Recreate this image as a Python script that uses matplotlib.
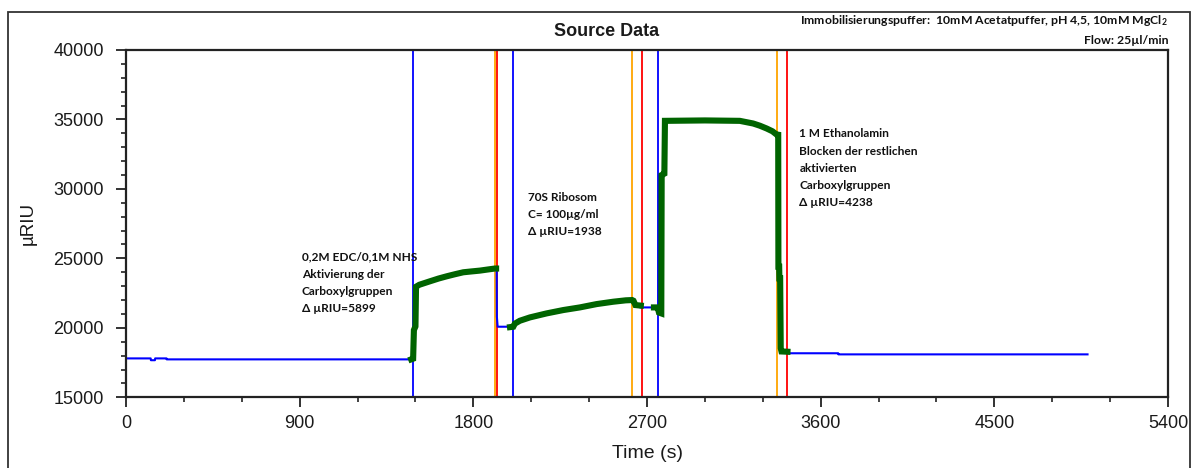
import matplotlib
matplotlib.use("Agg")
import matplotlib.pyplot as plt
from matplotlib.patches import Rectangle
from matplotlib.ticker import MultipleLocator

plt.rcParams["mathtext.fontset"] = "custom"
plt.rcParams["mathtext.bf"] = "Lato:bold"
plt.rcParams["mathtext.rm"] = "Lato"

# Full sensorgram (time in s, signal in µRIU)
trace_t = [0, 128, 129, 150, 151, 210, 211, 1480, 1488, 1492, 1500, 1503, 1520, 1575,
           1620, 1662, 1705, 1748, 1790, 1834, 1875, 1912, 1921, 1922, 1926, 2004,
           2015, 2041, 2093, 2180, 2266, 2352, 2439, 2525, 2590, 2623, 2630, 2640,
           2665, 2758, 2759, 2762, 2790, 2793, 3000, 3181, 3250, 3285, 3320, 3350,
           3371, 3380, 3381, 3386, 3393, 3397, 3432, 3691, 3692, 4983]
trace_v = [17800, 17800, 17670, 17670, 17800, 17800, 17730, 17730, 17780, 19840, 20100,
           22960, 23100, 23350, 23550, 23710, 23860, 24000, 24060, 24120, 24200, 24270,
           24270, 20800, 20080, 20080, 20300, 20510, 20750, 21040, 21280, 21470, 21710,
           21880, 21980, 22000, 21950, 21640, 21470, 21470, 21040, 31000, 31000, 34900,
           34930, 34900, 34710, 34550, 34350, 34150, 33920, 33900, 24400, 23560, 18530,
           18300, 18170, 18170, 18090, 18090]

# Highlighted injection phases
inj1_t = [1478, 1488, 1492, 1500, 1503, 1520, 1575, 1620, 1662, 1705, 1748, 1790, 1834,
          1875, 1912, 1918]
inj1_v = [17730, 17780, 19840, 20100, 22960, 23100, 23350, 23550, 23710, 23860, 24000,
          24060, 24120, 24200, 24270, 24270]
inj2_t = [1990, 2007, 2015, 2041, 2093, 2180, 2266, 2352, 2439, 2525, 2590, 2623, 2630,
          2640, 2668]
inj2_v = [20050, 20080, 20300, 20510, 20750, 21040, 21280, 21470, 21710, 21880, 21980,
          22000, 21950, 21640, 21600]
inj3_t = [2736, 2755, 2762, 2774, 2776, 2790, 2793, 3000, 3181, 3250, 3285, 3320, 3350,
          3371, 3380, 3381, 3385, 3386, 3390, 3393, 3397, 3428]
inj3_v = [21470, 21470, 21100, 21040, 31000, 31100, 34900, 34930, 34900, 34710, 34550,
          34350, 34150, 33920, 33900, 24400, 24400, 23560, 23560, 18530, 18300, 18280]

# Event markers
start_marks = [1487, 2004, 2758]
stop_marks = [1912, 2623, 3375]
wash_marks = [1921, 2676, 3428]

notes = [
    "0,2M EDC/0,1M NHS\nAktivierung der\nCarboxylgruppen\nΔ µRIU=5899",
    "70S Ribosom\nC= 100µg/ml\nΔ µRIU=1938",
    "1 M Ethanolamin\nBlocken der restlichen\naktivierten\nCarboxylgruppen\nΔ µRIU=4238",
]
note_pos = [(912, 25480), (2085, 29780), (3490, 34350)]

x_ticks = [0, 900, 1800, 2700, 3600, 4500, 5400]
y_ticks = [15000, 20000, 25000, 30000, 35000, 40000]

W, H = 1197, 468
fig = plt.figure(figsize=(W / 100, H / 100), dpi=100)
ax = fig.add_axes([126 / W, 1 - 397.3 / H, (1168 - 126) / W, (397.3 - 50) / H])

for t in start_marks:
    ax.axvline(t, color="#0000ff", lw=1.3, zorder=1)
for t in stop_marks:
    ax.axvline(t, color="#ffa500", lw=1.3, zorder=1)
for t in wash_marks:
    ax.axvline(t, color="#ff0000", lw=1.3, zorder=1)

ax.plot(trace_t, trace_v, color="#0000ff", lw=1.5, zorder=2)
for tt, vv in [(inj1_t, inj1_v), (inj2_t, inj2_v), (inj3_t, inj3_v)]:
    ax.plot(tt, vv, color="#006400", lw=4.4, solid_joinstyle="miter", zorder=3)

ax.set_xlim(0, 5400)
ax.set_ylim(15000, 40000)
ax.set_xticks(x_ticks)
ax.set_yticks(y_ticks)
ax.xaxis.set_minor_locator(MultipleLocator(300))
ax.yaxis.set_minor_locator(MultipleLocator(1000))
ax.tick_params(which="major", direction="out", length=7, width=1.3, labelsize=13,
               labelcolor="#1a1a1a", color="#222222")
ax.tick_params(axis="y", which="major", pad=9)
ax.tick_params(axis="x", which="major", pad=6)
ax.tick_params(which="minor", direction="out", length=3.6, width=1.2, color="#222222")
for lab in ax.get_xticklabels() + ax.get_yticklabels():
    lab.set_family("Liberation Sans")
for s in ax.spines.values():
    s.set_linewidth(1.6)
    s.set_color("#222222")

ax.set_xlabel("Time (s)", family="Liberation Sans", fontsize=14, color="#1a1a1a",
              labelpad=9)
ax.set_ylabel("µRIU", family="Liberation Sans", fontsize=13.5, color="#1a1a1a")
ax.yaxis.set_label_coords(-0.086, 0.5)

for txt, (tx, ty) in zip(notes, note_pos):
    ax.text(tx, ty, txt, family=["Lato", "DejaVu Sans"], fontweight="bold",
            fontsize=8.6, va="top", ha="left", linespacing=1.68, color="#111111",
            zorder=4)

fig.text(607 / W, 1 - 32 / H, "Source Data", family="Liberation Sans",
         fontweight="bold", fontsize=13, ha="center", va="center", color="#1a1a1a")
fig.text(1168 / W, 1 - 20 / H,
         r"Immobilisierungspuffer:  10mM Acetatpuffer, pH 4,5, 10mM MgCl$\mathbf{_2}$",
         family=["Lato", "DejaVu Sans"], fontweight="bold", fontsize=8.8,
         ha="right", va="center", color="#111111")
fig.text(1168 / W, 1 - 40 / H, "Flow: 25µl/min", family=["Lato", "DejaVu Sans"],
         fontweight="bold", fontsize=8.8, ha="right", va="center", color="#111111")

fig.add_artist(Rectangle((8 / W, -0.05), (1190 - 8) / W, (H - 12) / H + 0.05,
                         transform=fig.transFigure, fill=False, lw=1.3,
                         ec="#333333", clip_on=False))

fig.savefig("out.png", dpi=100)
